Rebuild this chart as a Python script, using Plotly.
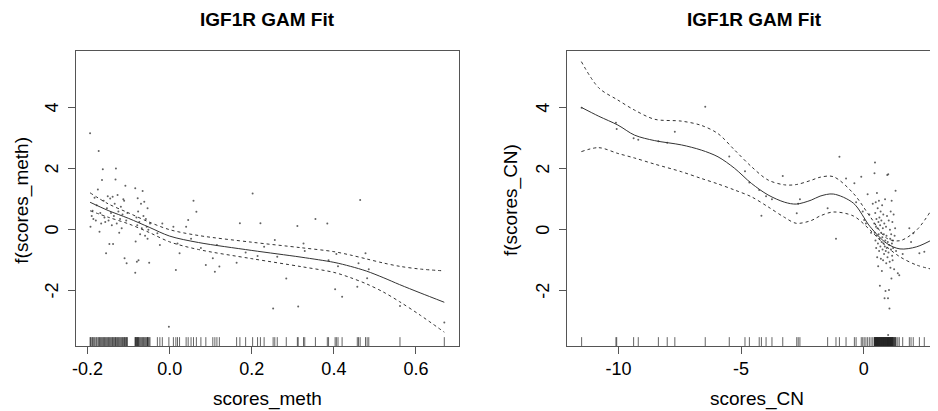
import plotly.graph_objects as go

# ---------------- data: left panel (scores_meth) ----------------
meth_grid = [-0.194, -0.15, -0.10, -0.05, 0.0, 0.07, 0.2, 0.32, 0.4, 0.44, 0.48, 0.52, 0.56, 0.61, 0.669]
meth_fit = [0.90, 0.63, 0.37, 0.08, -0.21, -0.42, -0.68, -0.90, -1.07, -1.20, -1.36, -1.57, -1.80, -2.07, -2.38]
meth_upper = [1.21, 0.85, 0.55, 0.25, 0.00, -0.19, -0.41, -0.59, -0.72, -0.83, -0.96, -1.09, -1.20, -1.29, -1.35]
meth_lower = [0.62, 0.41, 0.19, -0.09, -0.40, -0.65, -0.95, -1.21, -1.40, -1.57, -1.78, -2.04, -2.36, -2.80, -3.36]

meth_x = [-0.194, -0.193, -0.190, -0.188, -0.186, -0.183, -0.180, -0.178, -0.175, -0.173,
          -0.171, -0.169, -0.167, -0.165, -0.163, -0.161, -0.159, -0.157, -0.155, -0.153,
          -0.151, -0.149, -0.147, -0.145, -0.143, -0.141, -0.139, -0.138, -0.136, -0.134,
          -0.132, -0.131, -0.129, -0.127, -0.125, -0.123, -0.121, -0.119, -0.117, -0.115,
          -0.113, -0.111, -0.110, -0.108, -0.106, -0.105, -0.103,
          -0.084, -0.084, -0.083, -0.081, -0.080, -0.079, -0.078, -0.077, -0.076, -0.074,
          -0.072, -0.070, -0.068, -0.066, -0.064, -0.062, -0.060, -0.058, -0.056, -0.054,
          -0.054, -0.052, -0.050, -0.048,
          -0.030, -0.024, -0.018, -0.002, 0.009, 0.015, 0.019, 0.024, 0.040, 0.045,
          0.052, 0.058, 0.065, 0.076, 0.088, 0.105, 0.110, 0.115, 0.121, 0.163,
          0.171, 0.185, 0.202, 0.214, 0.221, 0.230, 0.252, 0.256, 0.262, 0.284,
          0.311, 0.313, 0.326, 0.329, 0.355, 0.384, 0.387, 0.403, 0.406, 0.410,
          0.420, 0.457, 0.460, 0.464, 0.477, 0.481, 0.485, 0.561, 0.669]
meth_y = [3.16, 0.10, 0.45, 0.62, 0.35, 1.05, 0.30, 0.80, 1.32, 2.58,
          -0.07, 0.55, 0.20, 1.63, 1.98, 0.95, 0.40, 0.25, -0.77, 0.70,
          1.10, 0.30, -0.47, 1.02, 0.55, 0.15, 1.08, -0.47, 0.45, 0.85,
          1.65, 2.01, 0.20, 1.14, 0.60, -0.10, 0.35, 0.75, 0.05, 0.50,
          1.00, 0.95, -0.94, 1.44, 0.30, -1.10, 0.55,
          1.36, -1.41, -0.39, 0.40, -1.05, 0.15, 1.03, 0.60, -1.00, 0.25,
          -0.15, 0.85, 0.05, 1.27, 0.45, 0.92, -0.20, 0.35, 0.10, 0.70,
          -0.30, 0.00, -1.08, 0.20,
          -0.12, -0.50, 0.20, -3.18, 0.10, -1.32, -0.45, -0.77, 0.10, 0.32,
          -0.30, 0.95, 0.59, -0.60, -1.16, -0.94, -1.38, -0.50, -1.21, -1.08,
          0.21, -0.75, 1.19, -0.86, 0.21, -0.56, -2.58, -0.34, -0.89, -1.60,
          0.12, -2.52, -0.45, -0.70, 0.35, 0.20, -1.00, -1.95, -0.80, -1.20,
          -2.20, -1.87, -1.10, 0.97, -0.77, -1.59, -1.30, -2.50, -3.04]

# ---------------- data: right panel (scores_CN) ----------------
cn_grid = [-11.51, -10.8, -10.02, -9.34, -8.52, -7.43, -6.62, -5.94, -5.26, -4.58, -3.90,
           -3.22, -2.75, -2.14, -1.78, -1.24, -0.42, 0.26, 0.94, 1.48, 2.16, 2.91]
cn_fit = [4.01, 3.72, 3.43, 3.10, 2.92, 2.78, 2.61, 2.39, 2.01, 1.52, 1.14,
          0.90, 0.84, 0.97, 1.10, 1.17, 0.87, 0.10, -0.45, -0.63, -0.56, -0.28]
cn_upper = [5.51, 4.65, 4.25, 3.92, 3.62, 3.56, 3.42, 3.15, 2.61, 2.07, 1.63,
            1.47, 1.48, 1.62, 1.72, 1.74, 1.19, 0.43, -0.28, -0.36, -0.01, 0.84]
cn_lower = [2.56, 2.69, 2.50, 2.35, 2.15, 1.90, 1.68, 1.50, 1.30, 1.08, 0.75,
            0.40, 0.21, 0.30, 0.45, 0.58, 0.45, -0.01, -0.56, -0.89, -1.16, -1.32]

cn_x = [-11.50, -10.10, -10.07, -9.38, -9.19, -8.37, -8.01, -7.70, -6.46, -5.48,
        -4.84, -4.66, -4.26, -4.17, -3.98, -3.74, -3.30, -2.73, -2.67, -2.60,
        -1.47, -1.13, -0.99, -0.72, -0.38, -0.31, -0.10, -0.04, 0.02, 0.09,
        0.16, 0.23, 0.30, 0.37,
        0.43, 0.44, 0.45, 0.46, 0.47, 0.48, 0.49, 0.50, 0.51, 0.52,
        0.53, 0.54, 0.55, 0.56, 0.57, 0.58, 0.59, 0.60, 0.61, 0.62,
        0.63, 0.64, 0.65, 0.66, 0.67, 0.68, 0.69, 0.70, 0.71, 0.72,
        0.73, 0.74, 0.75, 0.76, 0.77, 0.78, 0.79, 0.80, 0.81, 0.82,
        0.83, 0.84, 0.85, 0.86, 0.87, 0.88, 0.89, 0.90, 0.91, 0.92,
        0.93, 0.94, 0.95, 0.96, 0.97, 0.98, 0.99, 0.995, 1.00, 1.01, 1.02,
        1.03, 1.04, 1.05, 1.06, 1.07, 1.08, 1.09, 1.10, 1.11, 1.12,
        1.13, 1.14, 1.15, 1.16, 1.17, 1.18, 1.19, 1.20, 1.22, 1.24,
        1.26, 1.28, 1.30, 1.32,
        1.39, 1.45, 1.59, 1.86, 1.93, 2.02, 2.27, 2.47, 2.91]
cn_y = [4.00, 3.51, 3.30, 3.00, 2.95, 2.90, 2.85, 3.21, 4.03, 2.40,
        1.92, 1.55, 1.30, 0.46, 1.10, 1.00, 1.76, 0.54, 0.85, 1.00,
        0.70, -0.30, 2.39, 1.68, 1.52, 0.90, 1.74, 0.60, 0.32, 0.20,
        1.16, 0.50, -0.10, 0.85,
        0.20, 1.85, -0.10, 2.20, 0.55, -0.35, 0.90, 0.10, -0.60, 0.35,
        -0.20, 1.20, -0.90, 0.05, 0.70, -0.45, -1.20, 0.25, -0.15, 0.95,
        -0.70, 0.40, -0.30, -1.84, 0.15, -0.55, 0.60, -0.95, -0.10, 0.30,
        -0.40, -1.35, 0.80, -0.25, -0.65, 0.05, -1.00, 0.50, -0.45, -0.15,
        -0.80, 0.20, -2.25, -0.55, 1.00, -0.35, -2.01, -0.70, 0.10, -1.10,
        -0.20, -0.60, 0.45, 1.79, -0.90, -0.40, -2.25, -3.45, 1.82, -0.75, 0.30,
        -1.98, -0.50, -2.58, -1.05, 0.00, -0.30, -1.25, 0.60, -0.65, -0.15,
        -1.60, 0.95, -0.45, -0.85, 0.25, -1.00, -0.35, -0.60, 0.50, -1.30,
        -0.20, 0.05, 1.28, -0.70,
        -1.43, -1.49, -0.80, 0.05, -0.40, -0.12, -0.77, -0.72, -0.01]

meth_ticks = [-0.2, 0.0, 0.2, 0.4, 0.6]
meth_ticktext = ["-0.2", "0.0", "0.2", "0.4", "0.6"]
cn_ticks = [-10, -5, 0]
cn_ticktext = ["-10", "-5", "0"]
y_ticks = [-2, 0, 2, 4]
y_ticktext = ["-2", "0", "2", "4"]

# ---------------- figure ----------------
# The page body has an 8px default margin, so the figure is drawn 8px smaller
# and all target pixel positions are offset by that margin.
OFF = 8
W, H = 938 - OFF, 411 - OFF
FONT = "Liberation Sans, Arial, Helvetica, sans-serif"
LINE = "#333333"
AX = "#555555"


def fx(p):
    return (p - OFF) / W


def fy(p):
    return 1 - (p - OFF) / H


fig = go.Figure()


def add_panel(xa, ya, gx, fit, up, lo, px, py):
    fig.add_trace(go.Scatter(x=px, y=py, mode="markers", xaxis=xa, yaxis=ya,
                             marker=dict(size=2, color="rgba(70,70,70,0.85)"),
                             hoverinfo="skip", showlegend=False))
    for vals, dash in ((fit, "solid"), (up, "3px,3px"), (lo, "3px,3px")):
        fig.add_trace(go.Scatter(x=gx, y=vals, mode="lines", xaxis=xa, yaxis=ya,
                                 line=dict(color=LINE, width=1, dash=dash,
                                           shape="spline", smoothing=0.9),
                                 hoverinfo="skip", showlegend=False))


add_panel("x", "y", meth_grid, meth_fit, meth_upper, meth_lower, meth_x, meth_y)
add_panel("x2", "y2", cn_grid, cn_fit, cn_upper, cn_lower, cn_x, cn_y)

shapes = []
for v in meth_x:
    shapes.append(dict(type="line", xref="x", yref="y domain", x0=v, x1=v, y0=0, y1=0.03,
                       line=dict(color="#222222", width=0.7)))
for v in cn_x:
    shapes.append(dict(type="line", xref="x2", yref="y2 domain", x0=v, x1=v, y0=0, y1=0.03,
                       line=dict(color="#222222", width=0.7)))

ydom = [fy(346), fy(51)]
tickfont = dict(family=FONT, size=18, color="black")
common_x = dict(showline=True, linecolor=AX, linewidth=1, ticks="outside", ticklen=7,
                tickcolor=AX, tickfont=tickfont, showgrid=False, zeroline=False,
                ticklabelstandoff=-1, automargin=False)
common_y = dict(showline=True, linecolor=AX, linewidth=1, ticks="outside", ticklen=7,
                tickcolor=AX, showgrid=False, zeroline=False, showticklabels=False,
                tickmode="array", tickvals=y_ticks,
                range=[-3.813, 5.859], domain=ydom, automargin=False)

TF = dict(family=FONT, size=19, color="black")
annotations = [
    dict(text="<b>IGF1R GAM Fit</b>", x=fx(267.5), y=fy(20), xref="paper", yref="paper",
         showarrow=False, font=TF, xanchor="center", yanchor="middle"),
    dict(text="<b>IGF1R GAM Fit</b>", x=fx(754), y=fy(20), xref="paper", yref="paper",
         showarrow=False, font=TF, xanchor="center", yanchor="middle"),
    dict(text="scores_meth", x=fx(267.5), y=fy(399), xref="paper", yref="paper",
         showarrow=False, font=TF, xanchor="center", yanchor="middle"),
    dict(text="scores_CN", x=fx(756.7), y=fy(399), xref="paper", yref="paper",
         showarrow=False, font=TF, xanchor="center", yanchor="middle"),
    dict(text="f(scores_meth)", x=fx(21.7), y=fy(200), xref="paper", yref="paper",
         showarrow=False, textangle=-90, font=TF, xanchor="center", yanchor="middle"),
    dict(text="f(scores_CN)", x=fx(511), y=fy(200), xref="paper", yref="paper",
         showarrow=False, textangle=-90, font=TF, xanchor="center", yanchor="middle"),
]
# y-axis tick labels (parallel to the axis, as in R), positioned by axis value
for yref, xpix in (("y", 51.7), ("y2", 543.0)):
    for v, t in zip(y_ticks, y_ticktext):
        annotations.append(dict(text=t, x=fx(xpix), y=v, xref="paper", yref=yref,
                                showarrow=False, textangle=-90,
                                font=dict(family=FONT, size=18, color="black"),
                                xanchor="center", yanchor="middle"))

fig.update_layout(
    width=W, height=H, margin=dict(l=0, r=0, t=0, b=0, autoexpand=False),
    paper_bgcolor="white", plot_bgcolor="white",
    xaxis=dict(common_x, domain=[fx(76), fx(459)], range=[-0.2283, 0.7048], mirror=True,
               tickmode="array", tickvals=meth_ticks, ticktext=meth_ticktext, anchor="y"),
    yaxis=dict(common_y, mirror=True, anchor="x"),
    xaxis2=dict(common_x, domain=[fx(566.7), 1.0], range=[-12.108, 3.029], mirror=True,
                tickmode="array", tickvals=cn_ticks, ticktext=cn_ticktext, anchor="y2"),
    yaxis2=dict(common_y, mirror=False, anchor="x2"),
    shapes=shapes,
    annotations=annotations,
)

fig.write_html("out.html")
